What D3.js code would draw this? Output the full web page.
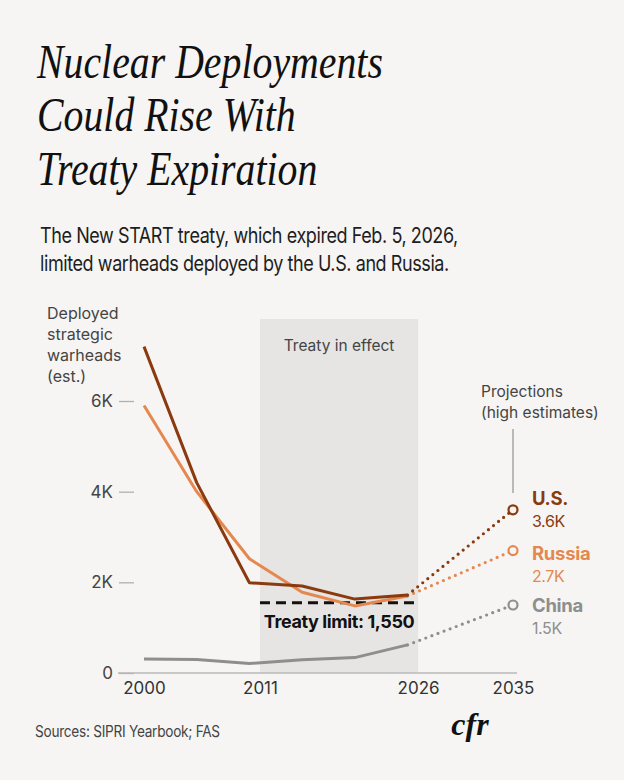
<!DOCTYPE html>
<html>
<head>
<meta charset="utf-8">
<script src="https://cdn.jsdelivr.net/npm/d3@7"></script>
<style>
  html, body { margin: 0; padding: 0; background: #f6f5f3; }
  svg { display: block; }
  text { font-family: Inter, "Noto Sans", sans-serif; }
</style>
</head>
<body>
<div id="chart"></div>
<script>
// data
var years = [2000, 2005, 2010, 2015, 2020, 2025];
var usValues = [7200, 4200, 1990, 1920, 1630, 1720];
var russiaValues = [5900, 4000, 2520, 1780, 1480, 1700];
var chinaValues = [310, 300, 210, 290, 340, 620];
var projYear = 2035;
var projNames = ["U.S.", "Russia", "China"];
var projValues = [3600, 2700, 1500];
var projLabels = ["3.6K", "2.7K", "1.5K"];
var xTicks = [2000, 2011, 2026, 2035];
var yTicks = [0, 2000, 4000, 6000];
var treatyStart = 2011, treatyEnd = 2026, treatyLimit = 1550;

var W = 624, H = 780;
var bg = "#f6f5f3";
var colors = ["#8a3a0e", "#e5884f", "#8e8e8e"];

var svg = d3.select("#chart").append("svg")
  .attr("width", W).attr("height", H);
svg.append("rect").attr("width", W).attr("height", H).attr("fill", bg);

// squeeze a block of text lines horizontally so its first line is `w` wide
function fitWidth(g, x0, w) {
  var len = g.select("text").node().getComputedTextLength();
  var k = Math.min(1, w / len);
  g.attr("transform", "translate(" + x0 + ",0) scale(" + k + ",1) translate(" + (-x0) + ",0)");
}

// title
var title = ["Nuclear Deployments", "Could Rise With", "Treaty Expiration"];
var tg = svg.append("g");
tg.selectAll("text").data(title).enter().append("text")
  .attr("x", 37).attr("y", function(d, i) { return 78 + i * 53.5; })
  .style("font-family", "'Liberation Serif', 'DejaVu Serif', serif")
  .style("font-style", "italic")
  .style("font-size", "48px")
  .attr("fill", "#111")
  .text(function(d) { return d; });
fitWidth(tg, 37, 346);

var sub = ["The New START treaty, which expired Feb. 5, 2026,",
           "limited warheads deployed by the U.S. and Russia."];
var sg = svg.append("g");
sg.selectAll("text").data(sub).enter().append("text")
  .attr("x", 40).attr("y", function(d, i) { return 243 + i * 28; })
  .style("font-size", "21.5px").style("letter-spacing", "-0.5px")
  .attr("fill", "#1e1e1e")
  .text(function(d) { return d; });
fitWidth(sg, 40, 418);

// scales
var x = d3.scaleLinear().domain([2000, 2035]).range([144, 513]);
var y = d3.scaleLinear().domain([0, 6000]).range([673, 401]);

// treaty band
svg.append("rect")
  .attr("x", x(treatyStart)).attr("y", 319)
  .attr("width", x(treatyEnd) - x(treatyStart)).attr("height", y(0) - 319)
  .attr("fill", "#e6e5e3");

svg.append("text").attr("x", (x(treatyStart) + x(treatyEnd)) / 2).attr("y", 351)
  .attr("text-anchor", "middle").style("font-size", "15.5px").attr("fill", "#444")
  .text("Treaty in effect");

// y axis label
var yLab = ["Deployed", "strategic", "warheads", "(est.)"];
svg.append("g").selectAll("text").data(yLab).enter().append("text")
  .attr("x", 47).attr("y", function(d, i) { return 319 + i * 21; })
  .style("font-size", "16px").attr("fill", "#444")
  .text(function(d) { return d; });

// y axis
var yAxis = svg.append("g").attr("transform", "translate(134,0)")
  .call(d3.axisLeft(y).tickValues(yTicks)
    .tickFormat(function(d) { return d ? d / 1000 + "K" : "0"; })
    .tickSize(15).tickPadding(6));
yAxis.select(".domain").remove();
yAxis.selectAll("line").attr("stroke", "#b0b0b0").attr("stroke-width", 1.3);
yAxis.selectAll("text").style("font-size", "17px").attr("fill", "#444")
  .style("font-family", "Inter, sans-serif");

// baseline
svg.append("line").attr("x1", 118).attr("x2", 517)
  .attr("y1", y(0)).attr("y2", y(0))
  .attr("stroke", "#b8b8b8").attr("stroke-width", 1.5);

// x axis
var xAxis = svg.append("g").attr("transform", "translate(0," + y(0) + ")")
  .call(d3.axisBottom(x).tickValues(xTicks).tickFormat(d3.format("d"))
    .tickSize(0).tickPadding(9));
xAxis.select(".domain").remove();
xAxis.selectAll("text").style("font-size", "17px").attr("fill", "#333")
  .style("font-family", "Inter, sans-serif");

// treaty limit
svg.append("line").attr("x1", x(treatyStart)).attr("x2", x(treatyEnd))
  .attr("y1", y(treatyLimit)).attr("y2", y(treatyLimit))
  .attr("stroke", "#111").attr("stroke-width", 3)
  .attr("stroke-dasharray", "10,6");
svg.append("text").attr("x", (x(treatyStart) + x(treatyEnd)) / 2).attr("y", 628)
  .attr("text-anchor", "middle").style("font-size", "18px")
  .style("font-weight", "700").style("letter-spacing", "-0.4px").attr("fill", "#111")
  .text("Treaty limit: 1,550");

// series
var series = [usValues, russiaValues, chinaValues];
var line = d3.line()
  .x(function(d, i) { return x(years[i]); })
  .y(function(d) { return y(d); });

var order = [2, 1, 0];
order.forEach(function(k) {
  var vals = series[k];
  var last = vals[vals.length - 1];
  svg.append("line")
    .attr("x1", x(years[years.length - 1])).attr("y1", y(last))
    .attr("x2", x(projYear)).attr("y2", y(projValues[k]))
    .attr("stroke", colors[k]).attr("stroke-width", 3.2)
    .attr("stroke-linecap", "round").attr("stroke-dasharray", "0,6.5");
  svg.append("path").datum(vals).attr("d", line)
    .attr("fill", "none").attr("stroke", colors[k]).attr("stroke-width", 3)
    .attr("stroke-linejoin", "round");
  svg.append("circle").attr("cx", x(projYear)).attr("cy", y(projValues[k]))
    .attr("r", 4.5).attr("fill", bg).attr("stroke", colors[k]).attr("stroke-width", 2.2);
});

// end labels
var labY = [505, 560, 612];
projNames.forEach(function(n, k) {
  svg.append("text").attr("x", 532).attr("y", labY[k])
    .style("font-size", "18.5px").style("font-weight", "700").style("letter-spacing", "-0.3px")
    .attr("fill", colors[k]).text(n);
  svg.append("text").attr("x", 532).attr("y", labY[k] + 22)
    .style("font-size", "16px").style("letter-spacing", "-0.4px")
    .attr("fill", colors[k]).text(projLabels[k]);
});

// projections note
svg.append("text").attr("x", 481).attr("y", 397)
  .style("font-size", "15.5px").attr("fill", "#444").text("Projections");
svg.append("text").attr("x", 481).attr("y", 418)
  .style("font-size", "15.5px").attr("fill", "#444").text("(high estimates)");
svg.append("line").attr("x1", x(projYear)).attr("x2", x(projYear))
  .attr("y1", 429).attr("y2", 493).attr("stroke", "#999").attr("stroke-width", 1.3);

// footer
var fg = svg.append("g");
fg.append("text").attr("x", 35).attr("y", 737)
  .style("font-size", "16px").style("letter-spacing", "-0.3px").attr("fill", "#444")
  .text("Sources: SIPRI Yearbook; FAS");
fitWidth(fg, 35, 185);
svg.append("text").attr("x", 470).attr("y", 735).attr("text-anchor", "middle")
  .style("font-family", "'Liberation Serif', serif").style("font-style", "italic")
  .style("font-weight", "700").style("font-size", "32px").attr("fill", "#111")
  .text("cfr");
</script>
</body>
</html>
